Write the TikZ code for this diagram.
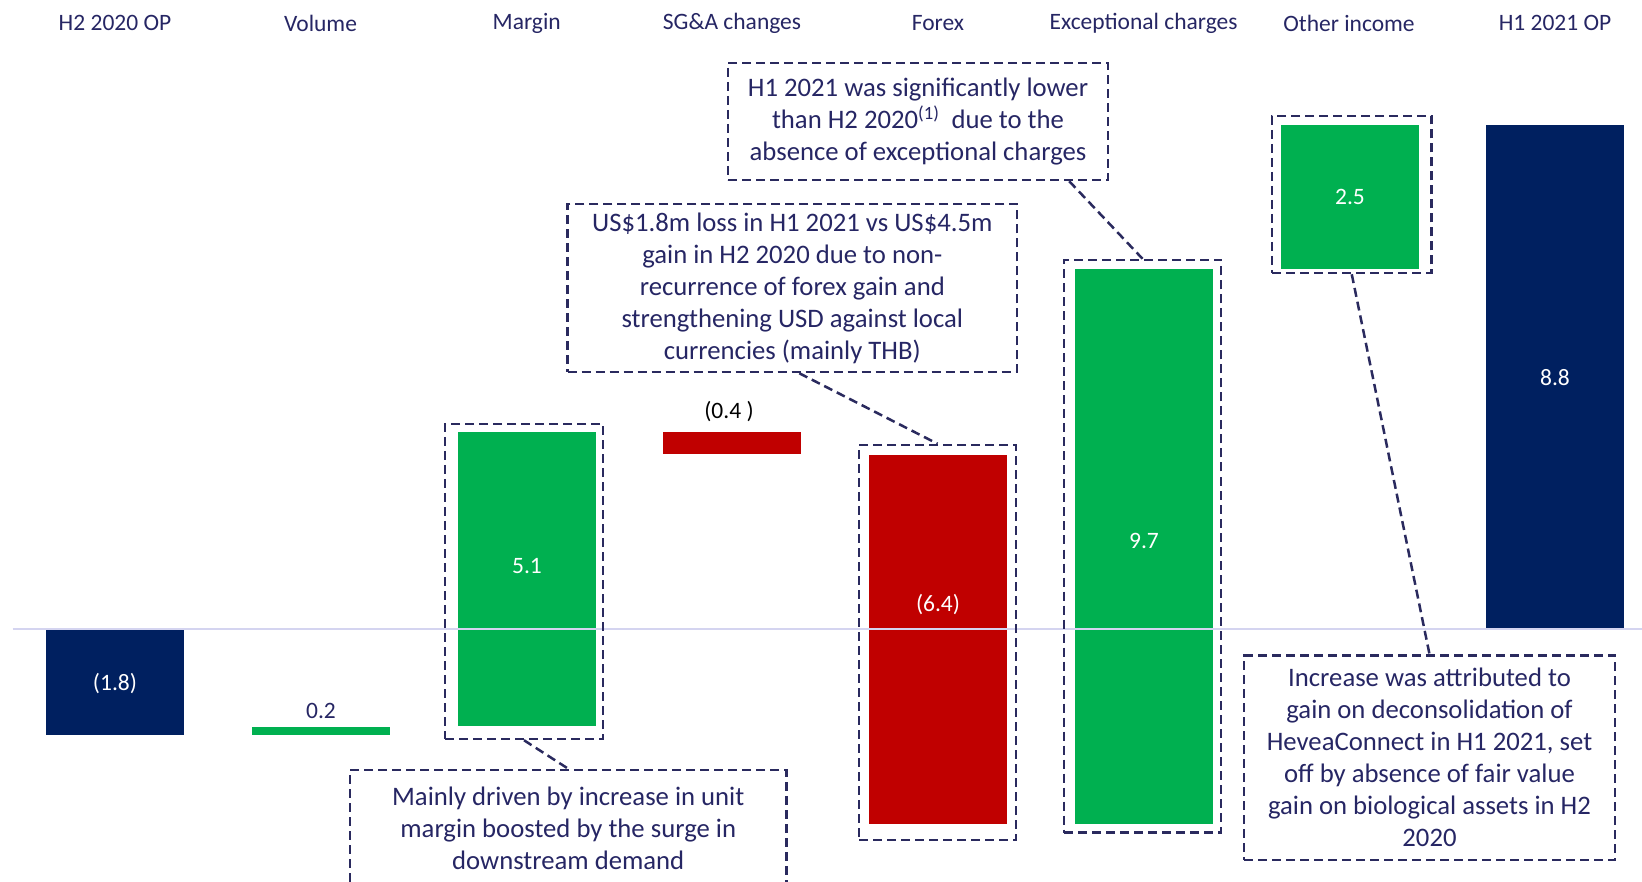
\documentclass[tikz,border=0pt]{standalone}
\usepackage{fontspec}
\setmainfont{Carlito}
\usetikzlibrary{calc}
\definecolor{navybar}{HTML}{002060}
\definecolor{gbar}{HTML}{00B050}
\definecolor{rbar}{HTML}{C00000}
\definecolor{txt}{HTML}{262664}
\definecolor{dashc}{HTML}{2A2A5E}
\definecolor{axisc}{HTML}{D4D4F0}
\begin{document}
\begin{tikzpicture}[x=1pt,y=-1pt,
  every node/.style={font=\fontsize{23.5}{32}\selectfont, inner sep=0pt},
  barbox/.style={rectangle, minimum width=138pt, inner sep=0pt},
  cat/.style={text=txt},
  val/.style={text=white},
  hl/.style={draw=dashc, line width=2.5pt, dash pattern=on 9pt off 5pt, rectangle},
  note/.style={hl, align=center, text=txt, font=\fontsize{26.7}{32}\selectfont},
  conn/.style={draw=dashc, line width=2.5pt, dash pattern=on 9pt off 5pt}]
\useasboundingbox (0,0) rectangle (1642,882);
% category labels
\node[cat] (c1) at (115,23) {H2 2020 OP};
\node[cat] (c2) at (320.5,23) {Volume};
\node[cat] (c3) at (526.7,23) {Margin};
\node[cat] (c4) at (732,23) {SG\&A changes};
\node[cat] (c5) at (938,23) {Forex};
\node[cat] (c6) at (1143.6,23) {Exceptional charges};
\node[cat] (c7) at (1349,23) {Other income};
\node[cat] (c8) at (1555,23) {H1 2021 OP};
% bars
\node[barbox, fill=navybar, minimum height=105pt] (b1) at (115,682.5) {};
\node[barbox, fill=gbar, minimum height=8pt] (b2) at (321,731) {};
\node[barbox, fill=gbar, minimum height=293.5pt] (b3) at (527,579.25) {};
\node[barbox, fill=rbar, minimum height=22pt] (b4) at (732,443.5) {};
\node[barbox, fill=rbar, minimum height=368.5pt] (b5) at (938,639.75) {};
\node[barbox, fill=gbar, minimum height=555pt] (b6) at (1144,546.5) {};
\node[barbox, fill=gbar, minimum height=144.4pt] (b7) at (1350,196.8) {};
\node[barbox, fill=navybar, minimum height=504.4pt] (b8) at (1555,376.8) {};
% axis
\coordinate (axl) at (12.6,629);
\coordinate (axr) at (1642,629);
\draw[axisc, line width=2pt] (axl) -- (axr);
% value labels
\node[val] (v1) at (115,684) {(1.8)};
\node[cat] (v2) at (321,711) {0.2};
\node[val] (v3) at (527,566.5) {5.1};
\node[text=black] (v4) at (729,411.5) {(0.4 )};
\node[val] (v5) at (938,605) {(6.4)};
\node[val] (v6) at (1144,541) {9.7};
\node[val] (v7) at (1350,197) {2.5};
\node[val] (v8) at (1555,378) {8.8};
% highlight boxes
\node[hl, minimum width=158pt, minimum height=315pt] (mbox) at (524,581.5) {};
\node[hl, minimum width=157pt, minimum height=395pt] (fbox) at (937.5,642.5) {};
\node[hl, minimum width=157pt, minimum height=572.5pt] (ebox) at (1142.5,546.25) {};
\node[hl, minimum width=159.5pt, minimum height=157pt] (obox) at (1351.75,194.5) {};
% notes
\node[note, minimum width=449.4pt, minimum height=168pt] (fnote) at (792.3,288) {US\$1.8m loss in H1 2021 vs US\$4.5m\\gain in H2 2020 due to non-\\recurrence of forex gain and\\strengthening USD against local\\currencies (mainly THB)};
\node[note, minimum width=380pt, minimum height=117pt] (enote) at (918,121.5) {H1 2021 was significantly lower\\than H2 2020\textsuperscript{(1)}\ \ due to the\\absence of exceptional charges};
\node[note, minimum width=436.5pt, minimum height=116pt] (mnote) at (568.25,828) {Mainly driven by increase in unit\\margin boosted by the surge in\\downstream demand};
\node[note, minimum width=371pt, minimum height=204.5pt] (onote) at (1429.5,757.75) {Increase was attributed to\\gain on deconsolidation of\\HeveaConnect in H1 2021, set\\off by absence of fair value\\gain on biological assets in H2\\2020};
% connectors
\draw[conn] (mbox.south) -- (mnote.north);
\draw[conn] ([xshift=7pt]fnote.south) -- (fbox.north);
\draw[conn] ([xshift=-40pt]enote.south east) -- (ebox.north);
\draw[conn] (obox.south) -- (onote.north);
\end{tikzpicture}
\end{document}
